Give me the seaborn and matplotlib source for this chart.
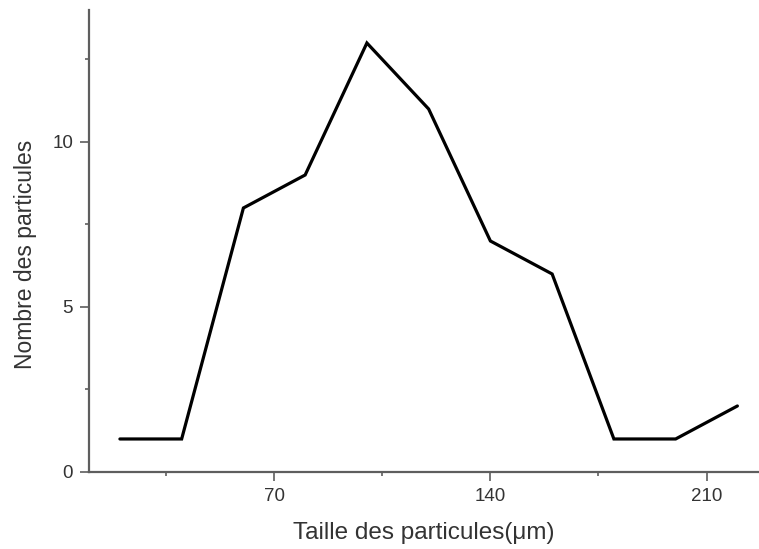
import matplotlib
matplotlib.use("Agg")
import matplotlib.pyplot as plt
from matplotlib.ticker import MultipleLocator
import seaborn as sns
import pandas as pd

# Particle size distribution
taille = [20, 40, 60, 80, 100, 120, 140, 160, 180, 200, 220]
nombre = [1, 1, 8, 9, 13, 11, 7, 6, 1, 1, 2]
x_ticks = [70, 140, 210]
y_ticks = [0, 5, 10]

df = pd.DataFrame({"taille": taille, "nombre": nombre})

sns.set_style("white")
plt.rcParams["font.family"] = ["Liberation Sans", "DejaVu Sans"]

fig = plt.figure(figsize=(7.59, 5.49), dpi=100)
ax = fig.add_axes([0.1173, 0.1403, 0.8827, 0.8415])

sns.lineplot(data=df, x="taille", y="nombre", ax=ax, color="black",
             linewidth=2.3, solid_joinstyle="miter")

ax.set_xlim(10, 227)
ax.set_ylim(0, 14)
ax.set_xticks(x_ticks)
ax.set_yticks(y_ticks)
ax.xaxis.set_minor_locator(MultipleLocator(35))
ax.yaxis.set_minor_locator(MultipleLocator(2.5))

spine_col = "#5e5e5e"
for side in ("top", "right"):
    ax.spines[side].set_visible(False)
for side in ("left", "bottom"):
    ax.spines[side].set_color(spine_col)
    ax.spines[side].set_linewidth(1.6)

ax.tick_params(which="major", direction="out", length=6.5, width=1.2,
               color=spine_col, labelsize=13.5, labelcolor="#333333",
               bottom=True, left=True, pad=5)
ax.tick_params(which="minor", direction="out", length=3, width=1.2,
               color=spine_col, bottom=True, left=True)

ax.set_xlabel("Taille des particules(\u03bcm)", fontsize=17.5, color="#333333",
              labelpad=12)
ax.set_ylabel("Nombre des particules", fontsize=16.5, color="#333333")
ax.yaxis.set_label_coords(-0.078, 0.472)

fig.savefig("out.png", dpi=100)
